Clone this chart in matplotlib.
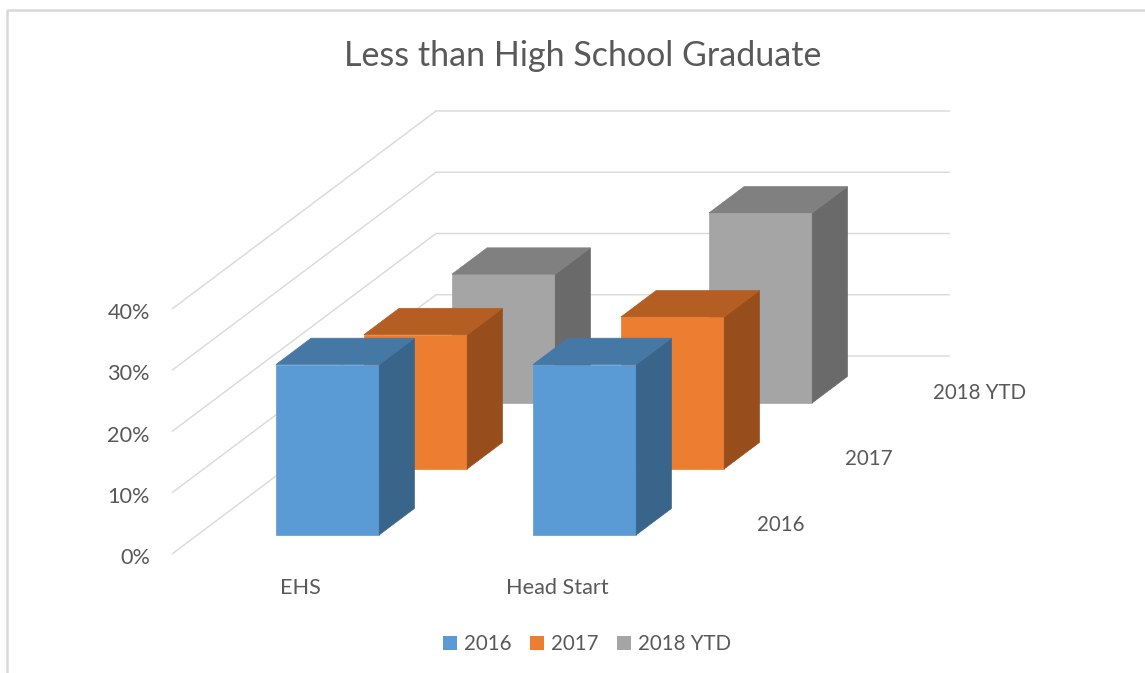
import matplotlib
matplotlib.use("Agg")
import matplotlib.pyplot as plt
from matplotlib.patches import Polygon, Rectangle

# ---- data ----
title = "Less than High School Graduate"
categories = ["EHS", "Head Start"]
series_names = ["2016", "2017", "2018 YTD"]
values_2016 = [27.8, 27.8]
values_2017 = [21.9, 24.8]
values_2018 = [21.0, 31.0]
value_ticks = [0, 10, 20, 30, 40]
value_tick_labels = ["0%", "10%", "20%", "30%", "40%"]

# ---- styling ----
face = ["#5B9BD5", "#ED7D31", "#A5A5A5"]
top = ["#4678A6", "#B55E23", "#808080"]
side = ["#3A658A", "#984E1C", "#6A6A6A"]
grid_c = "#D9D9D9"
text_c = "#595959"
plt.rcParams["font.family"] = ["Lato", "DejaVu Sans"]

# oblique projection of (category, depth, value) onto the figure
X0, Y0 = 172.0, 554.0
CAT_W, DEP_X, DEP_Y, VAL_Y = 257.0, 88.0, 66.0, 6.125
BAR_W = 0.402
BAR_OFF = 0.305
DEPTH_START = 0.29
DEPTH_LEN = 0.40


def proj(c, d, v):
    return (X0 + CAT_W * c + DEP_X * d, Y0 - DEP_Y * d - VAL_Y * v)


fig = plt.figure(figsize=(11.45, 6.73), dpi=100)
ax = fig.add_axes([0, 0, 1, 1])
ax.set_xlim(0, 1145)
ax.set_ylim(673, 0)
ax.axis("off")

# chart frame
ax.add_patch(Rectangle((6.5, 9.5), 1300, 800, fill=False, ec=grid_c, lw=1.8, zorder=1))

n_cat = len(categories)
n_ser = len(series_names)

# gridlines on side wall and back wall
for v, lab in zip(value_ticks, value_tick_labels):
    a, b, c = proj(0, 0, v), proj(0, n_ser, v), proj(n_cat, n_ser, v)
    ax.plot([a[0], b[0], c[0]], [a[1], b[1], c[1]], color=grid_c, lw=1.0, zorder=2,
            solid_joinstyle="miter", solid_capstyle="butt")
    ax.text(a[0] - 22, a[1] + 4, lab, ha="right", va="center", fontsize=15.6, color=text_c)

# bars, back to front
all_values = [values_2016, values_2017, values_2018]
for s in reversed(range(n_ser)):
    for c in range(n_cat):
        v = all_values[s][c]
        c0, c1 = c + BAR_OFF, c + BAR_OFF + BAR_W
        d0, d1 = s + DEPTH_START, s + DEPTH_START + DEPTH_LEN
        z = 3 + (n_ser - s) * 10 + c
        ax.add_patch(Polygon([proj(c0, d0, 0), proj(c1, d0, 0), proj(c1, d0, v), proj(c0, d0, v)],
                             fc=face[s], ec=face[s], lw=0.5, zorder=z))
        ax.add_patch(Polygon([proj(c1, d0, 0), proj(c1, d1, 0), proj(c1, d1, v), proj(c1, d0, v)],
                             fc=side[s], ec=side[s], lw=0.5, zorder=z))
        ax.add_patch(Polygon([proj(c0, d0, v), proj(c1, d0, v), proj(c1, d1, v), proj(c0, d1, v)],
                             fc=top[s], ec=top[s], lw=0.5, zorder=z))

# category labels
for c, lab in enumerate(categories):
    x, _ = proj(c + 0.5, 0, 0)
    ax.text(x, 588, lab, ha="center", va="center", fontsize=15.6, color=text_c)

# series labels along depth axis
for s, lab in enumerate(series_names):
    x, y = proj(n_cat, s + 0.5, 0)
    ax.text(x + 27, y + 4, lab, ha="left", va="center", fontsize=14.8, color=text_c)

ax.text(583, 56, title, ha="center", va="center", fontsize=24.5, color=text_c)

# legend
handles = [Rectangle((0, 0), 1, 1, fc=f, ec="none") for f in face]
ax.legend(handles, series_names, loc="center", bbox_to_anchor=(587.5 / 1145, 1 - 644 / 673),
          ncol=3, frameon=False, fontsize=14.8, labelcolor=text_c, handlelength=0.68,
          handleheight=0.68, handletextpad=0.34, columnspacing=0.9)

fig.savefig("out.png", dpi=100)
